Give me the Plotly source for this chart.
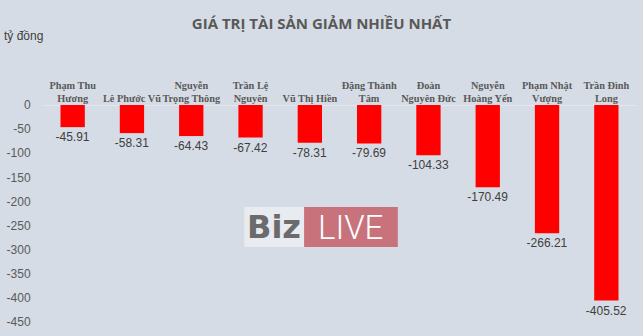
import plotly.graph_objects as go

names = ["Phạm Thu<br>Hương", "Lê Phước Vũ", "Nguyễn<br>Trọng Thông", "Trần Lệ<br>Nguyên",
         "Vũ Thị Hiền", "Đặng Thành<br>Tâm", "Đoàn<br>Nguyên Đức", "Nguyễn<br>Hoàng Yến",
         "Phạm Nhật<br>Vượng", "Trần Đình<br>Long"]
values = [-45.91, -58.31, -64.43, -67.42, -78.31, -79.69, -104.33, -170.49, -266.21, -405.52]
value_labels = ["-45.91", "-58.31", "-64.43", "-67.42", "-78.31", "-79.69", "-104.33", "-170.49", "-266.21", "-405.52"]
y_ticks = [0, -50, -100, -150, -200, -250, -300, -350, -400, -450]

BG = "#D6DCE5"

fig = go.Figure()
fig.add_trace(go.Bar(
    x=list(range(len(names))), y=values,
    marker=dict(color="#FF0000", line=dict(width=0)),
    text=value_labels, textposition="outside", cliponaxis=False, constraintext="none",
    textfont=dict(family="Liberation Sans", size=12, color="#404040"),
))

fig.update_layout(
    width=643, height=336,
    margin=dict(l=41, r=7, t=105, b=14),
    paper_bgcolor=BG, plot_bgcolor=BG,
    bargap=0.59,
    showlegend=False,
    title=dict(text="<b>GIÁ TRỊ TÀI SẢN GIẢM NHIỀU NHẤT</b>", x=0.5, xanchor="center",
               y=0.93, yanchor="middle",
               font=dict(family="Open Sans", size=15, color="#595959")),
    xaxis=dict(side="top", tickmode="array", tickvals=list(range(len(names))), ticktext=names,
               tickangle=0,
               showgrid=False, zeroline=False, showline=False, ticks="",
               tickfont=dict(family="Liberation Serif", size=10.3, color="#595959", weight="bold"),
               range=[-0.5, len(names) - 0.5]),
    yaxis=dict(range=[-450, 0], tickmode="array", tickvals=y_ticks,
               ticktext=[str(v) for v in y_ticks],
               showgrid=False, zeroline=True, zerolinecolor="#E4E7EC", zerolinewidth=1,
               showline=False, ticks="outside", ticklen=9, tickcolor="rgba(0,0,0,0)",
               tickfont=dict(family="Liberation Sans", size=12, color="#595959")),
)

fig.add_annotation(text="tỷ đồng", xref="paper", yref="paper", x=-41/595, y=1 + (105-36)/217,
                   xanchor="left", yanchor="middle", showarrow=False,
                   font=dict(family="Liberation Sans", size=12, color="#404040"))

# BizLIVE watermark
fig.add_shape(type="rect", xref="paper", yref="paper",
              x0=(243-41)/595, x1=(303-41)/595, y0=1-(247-105)/217, y1=1-(207-105)/217,
              fillcolor="#E8EBF0", line=dict(width=0), layer="above")
fig.add_shape(type="rect", xref="paper", yref="paper",
              x0=(303-41)/595, x1=(397-41)/595, y0=1-(247-105)/217, y1=1-(207-105)/217,
              fillcolor="#C8727B", line=dict(width=0), layer="above")
fig.add_annotation(text="<b>Biz</b>", xref="paper", yref="paper", x=(273-41)/595, y=1-(227-105)/217,
                   showarrow=False, xanchor="center", yanchor="middle",
                   font=dict(family="DejaVu Sans", size=32, color="#6B6B6B"))
fig.add_annotation(text="LIVE", xref="paper", yref="paper", x=(350-41)/595, y=1-(227-105)/217,
                   showarrow=False, xanchor="center", yanchor="middle",
                   font=dict(family="Roboto", size=33, color="#FFFFFF", weight=300))

fig.write_html("out.html")
